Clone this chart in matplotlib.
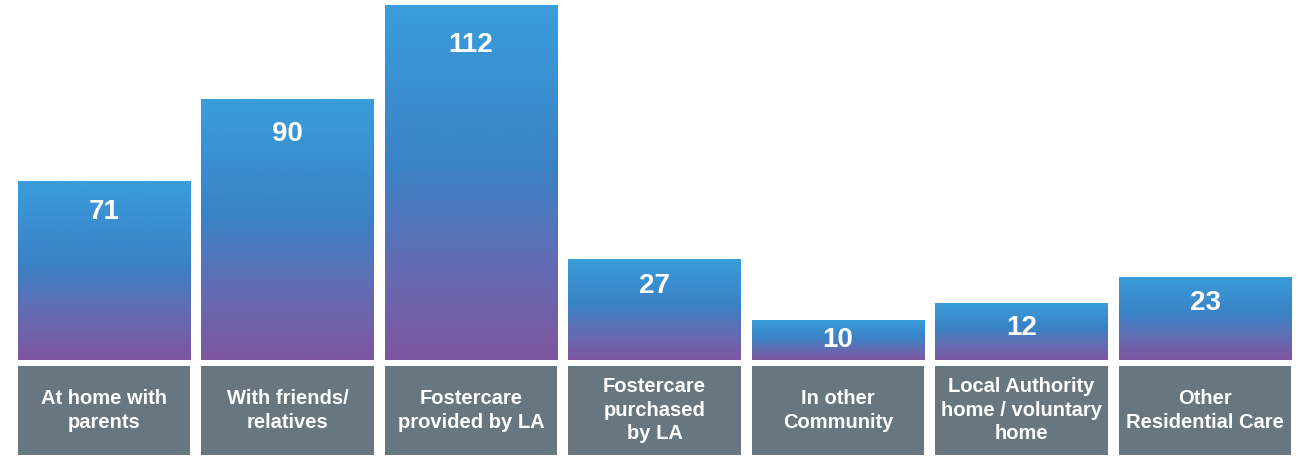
import numpy as np
import matplotlib.pyplot as plt
from matplotlib.colors import LinearSegmentedColormap
from matplotlib.patches import Rectangle

# Data
categories = ["At home with\nparents", "With friends/\nrelatives", "Fostercare\nprovided by LA",
              "Fostercare\npurchased\nby LA", "In other\nCommunity",
              "Local Authority\nhome / voluntary\nhome", "Other\nResidential Care"]
values = [71, 90, 112, 27, 10, 12, 23]
# bar heights as drawn in the infographic (not proportional to the counts)
bar_heights = [56.5, 82.3, 112, 31.9, 12.6, 18.0, 26.2]

grad = LinearSegmentedColormap.from_list(
    "bluepurple", [(0, "#7e55a0"), (0.3, "#5f6fb5"), (0.55, "#3a82c6"), (1, "#3a9dda")])
box_color = "#68777f"

fig = plt.figure(figsize=(12.97, 4.61), dpi=100)
ax = fig.add_axes([0, 0, 1, 1])
ax.set_xlim(-0.567, 6.501)
ax.set_ylim(-31.9, 113.6)
ax.axis("off")

w = 0.94
ramp = np.linspace(0, 1, 256).reshape(-1, 1)
for i, (h, v, lab) in enumerate(zip(bar_heights, values, categories)):
    x0 = i - w / 2
    # gradient bar
    im = ax.imshow(ramp, cmap=grad, origin="lower", aspect="auto",
                   extent=(x0, x0 + w, 0, h), zorder=2)
    clip = Rectangle((x0, 0), w, h, transform=ax.transData, facecolor="none", edgecolor="none")
    ax.add_patch(clip)
    im.set_clip_path(clip)
    # value
    off = min(h * 0.5, 7 + h * 0.05)
    ax.text(i, h - off, str(v), ha="center", va="center", color="white",
            fontsize=20, fontweight="bold", family="Liberation Sans", zorder=3)
    # label box
    ax.add_patch(Rectangle((x0, -29.9), w, 28.0, facecolor=box_color, edgecolor="none", zorder=2))
    ax.text(i, -15.9, lab, ha="center", va="center", color="white", fontsize=14.5,
            fontweight="bold", family="Liberation Sans", linespacing=1.3, zorder=3)

fig.savefig("out.png", dpi=100)
